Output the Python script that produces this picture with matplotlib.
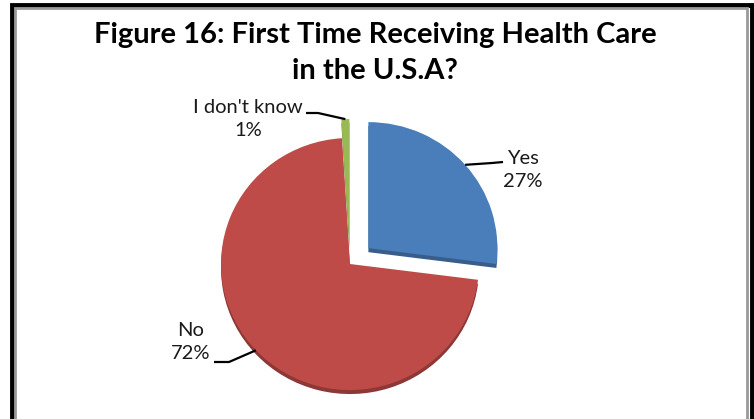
import matplotlib
matplotlib.use("Agg")
import matplotlib.pyplot as plt
from matplotlib.patches import Rectangle
from matplotlib.transforms import Affine2D
import numpy as np

# chart data
labels = ["Yes", "No", "I don't know"]
pcts = [27, 72, 1]
colors = ["#4A7EBB", "#BE4B48", "#98B954"]
dark_colors = ["#385D8A", "#8C3836", "#71893F"]
explode = [0.19, 0.0, 0.15]   # fraction of the radius

W, H = 754, 419
fig = plt.figure(figsize=(W / 100, H / 100), dpi=100)
ax = fig.add_axes([0, 0, 1, 1])

# pie geometry in pixel coords (y goes down)
cx, cy, r, sy, depth = 350, 264, 129, 0.977, 4
expl_px = [e * r for e in explode]

def squash(c0, c1):
    return Affine2D().translate(-c0, -c1).scale(1, sy).translate(c0, c1) + ax.transData

# dark "3d" side, drawn under the top face
side, _ = ax.pie(pcts, explode=expl_px, colors=dark_colors, center=(cx, cy + depth),
                 radius=r, startangle=-90, counterclock=True,
                 wedgeprops=dict(linewidth=0))
for w in side:
    w.set_transform(squash(cx, cy + depth))

wedges, _ = ax.pie(pcts, explode=expl_px, colors=colors, center=(cx, cy),
                   radius=r, startangle=-90, counterclock=True,
                   wedgeprops=dict(linewidth=0))
for w in wedges:
    w.set_transform(squash(cx, cy))

ax.set_xlim(0, W)
ax.set_ylim(H, 0)
ax.set_aspect("auto")
ax.axis("off")

# labels with leader lines
lab_pos = {"Yes": (523, 170), "No": (191, 342), "I don't know": (248, 119)}
elbows = {"Yes": [(503, 162), (492, 163)],
          "No": [(214, 362), (229, 362)],
          "I don't know": [(306, 113), (318, 113)]}
for w, lab, p in zip(wedges, labels, pcts):
    tx, ty = lab_pos[lab]
    ax.text(tx, ty, f"{lab}\n{p}%", ha="center", va="center", fontsize=14.5,
            family="Lato", linespacing=1.45, color="#1a1a1a")
    mid = np.deg2rad((w.theta1 + w.theta2) / 2)
    ax_x = w.center[0] + r * np.cos(mid)
    ax_y = cy + (w.center[1] + r * np.sin(mid) - cy) * sy
    pts = elbows[lab] + [(ax_x, ax_y)]
    ax.plot([q[0] for q in pts], [q[1] for q in pts], color="black", lw=1.6,
            solid_capstyle="butt")

ax.text(375, 53, "Figure 16: First Time Receiving Health Care\nin the U.S.A?",
        ha="center", va="center", fontsize=21, family="Lato", weight="bold",
        linespacing=1.5, color="black")

# chart frame: black outline with a grey inner line
fig.patches.append(Rectangle((11.5, -20), 740, 434.5, transform=None, fill=False,
                             edgecolor="black", lw=3.5))
fig.patches.append(Rectangle((14.5, -20), 732.5, 431, transform=None, fill=False,
                             edgecolor="#9a9a9a", lw=2))

fig.savefig("out.png", dpi=100)
